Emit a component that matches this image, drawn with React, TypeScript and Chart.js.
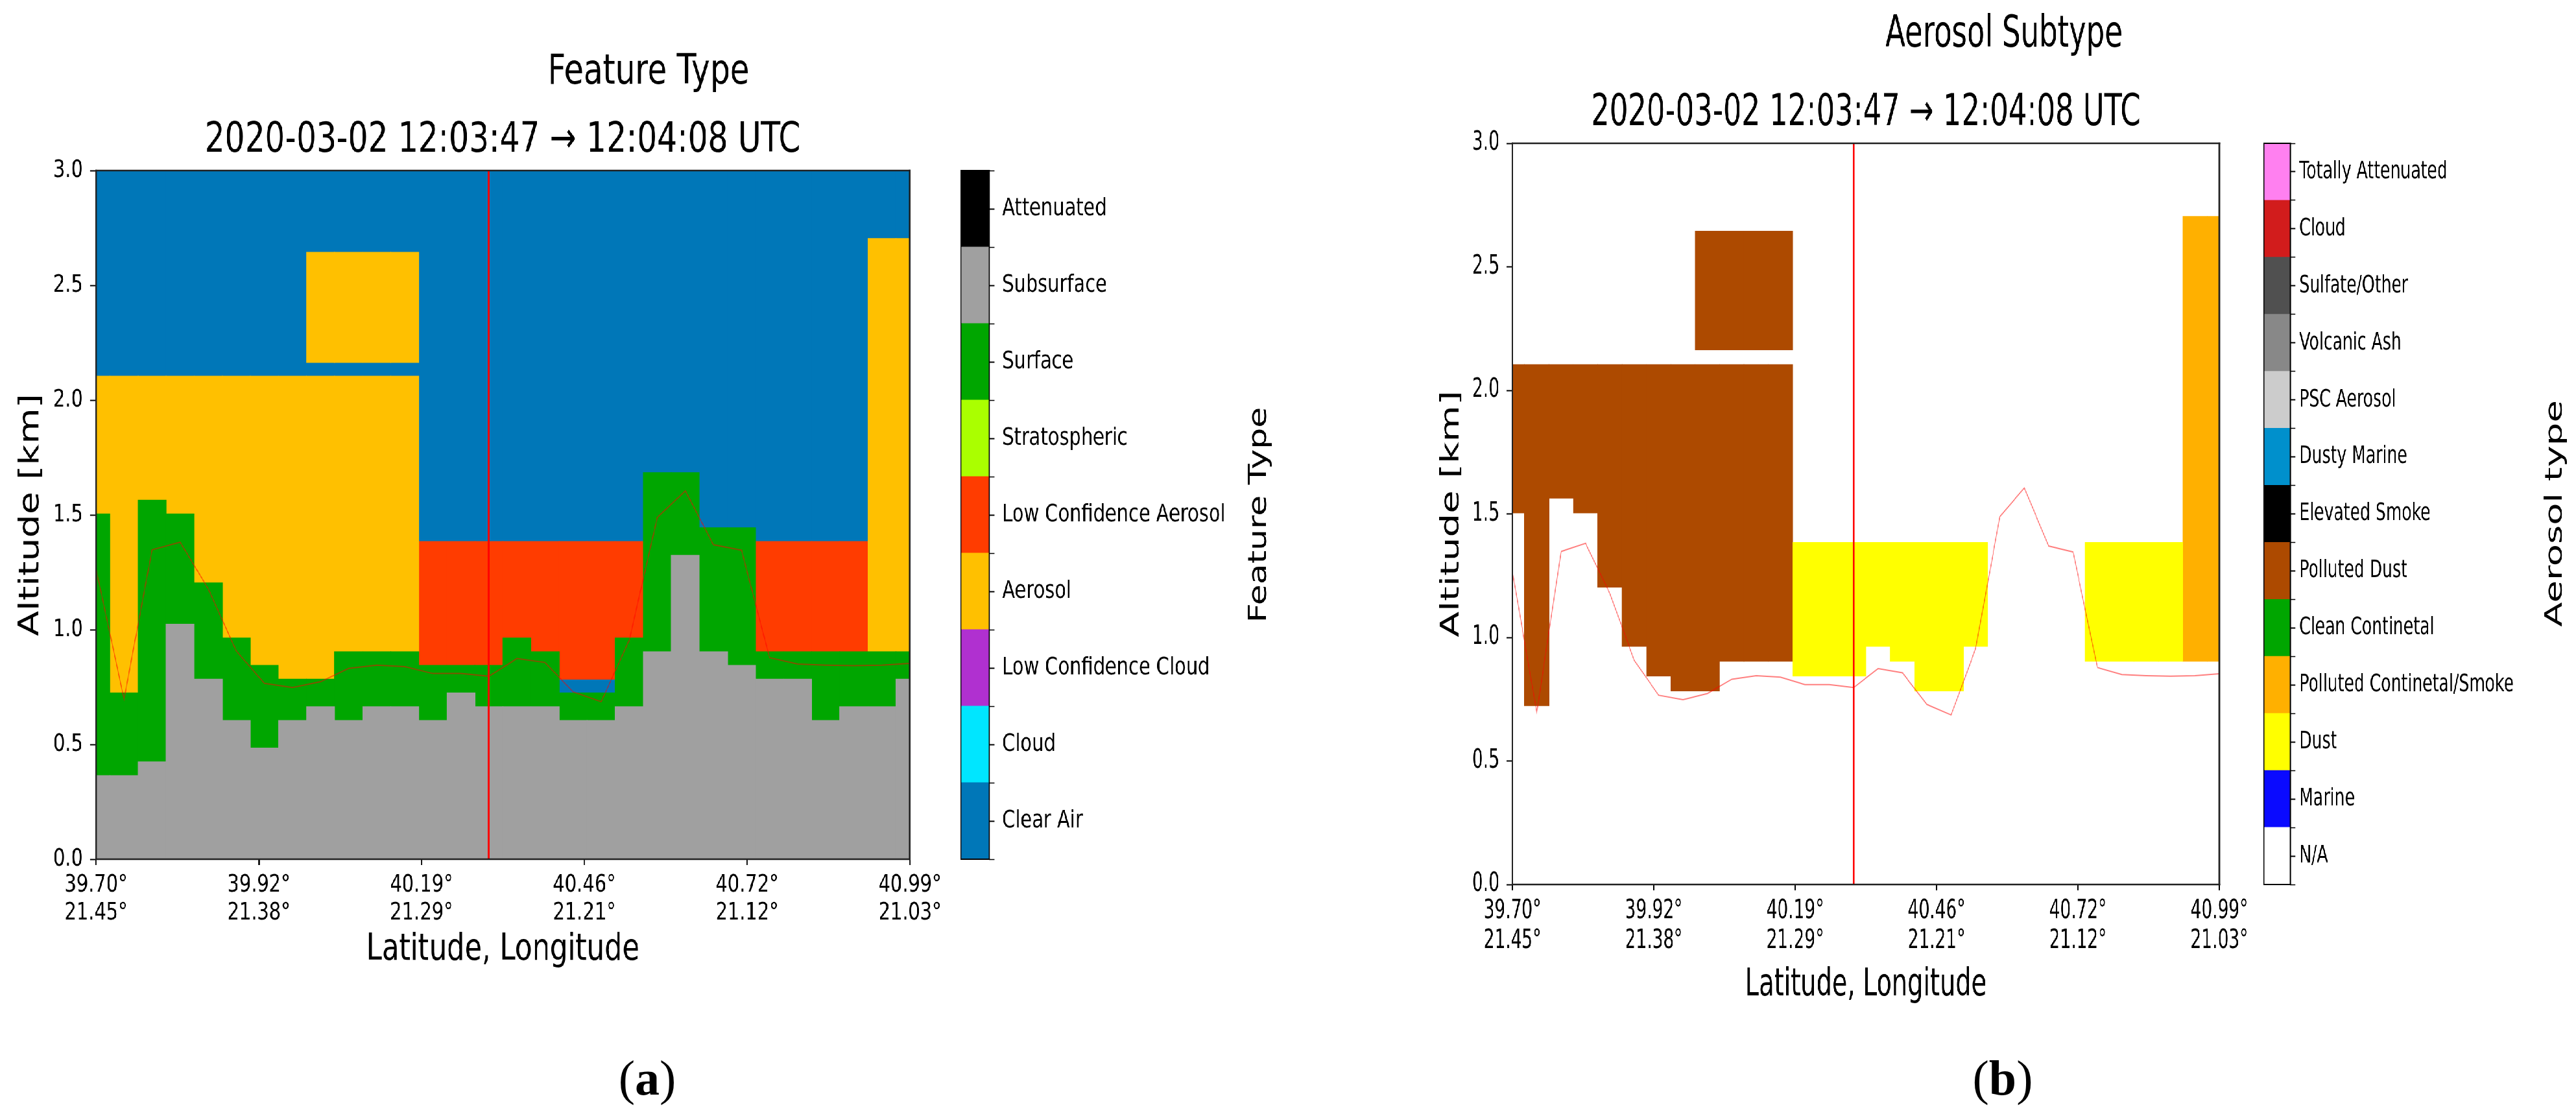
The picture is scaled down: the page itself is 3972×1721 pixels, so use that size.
import React, { useEffect, useMemo, useRef } from 'react';
import { Chart, registerables } from 'chart.js';

Chart.register(...registerables);

const FONT = '"DejaVu Sans", "Noto Sans", sans-serif';
Chart.defaults.font.family = FONT;

// ---------------- data ----------------
const profiles = [0, 1, 2, 3, 4, 5, 6, 7, 8, 9, 10, 11, 12, 13, 14, 15, 16, 17, 18, 19, 20, 21, 22, 23, 24, 25, 26, 27, 28, 29];
const latTickLabels = ['39.70°', '39.92°', '40.19°', '40.46°', '40.72°', '40.99°'];
const lonTickLabels = ['21.45°', '21.38°', '21.29°', '21.21°', '21.12°', '21.03°'];
const timeSpan = '2020-03-02 12:03:47 → 12:04:08 UTC';
const altitudeRange = [0, 3];
const altitudeStep = 0.5;
const stationProfile = 14;

// top of subsurface (km)
const subsurfaceTop = [0.364, 0.364, 0.424, 1.024, 0.784, 0.604, 0.484, 0.604, 0.664, 0.604, 0.664, 0.664, 0.604, 0.724, 0.664,
  0.664, 0.664, 0.604, 0.604, 0.664, 0.904, 1.324, 0.904, 0.844, 0.784, 0.784, 0.604, 0.664, 0.664, 0.784];
// top of surface return (km)
const surfaceTop = [1.504, 0.724, 1.564, 1.504, 1.204, 0.964, 0.844, 0.784, 0.784, 0.904, 0.904, 0.904, 0.844, 0.844, 0.844,
  0.964, 0.904, 0.724, 0.724, 0.964, 1.684, 1.684, 1.444, 1.444, 0.904, 0.904, 0.904, 0.904, 0.904, 0.904];
// lower aerosol layer
const aerosolBase = [1.504, 0.724, 1.564, 1.504, 1.204, 0.964, 0.844, 0.784, 0.784, 0.904, 0.904, 0.904, null, null, null,
  null, null, null, null, null, null, null, null, null, null, null, null, null, 0.904, 0.904];
const aerosolTop = [2.104, 2.104, 2.104, 2.104, 2.104, 2.104, 2.104, 2.104, 2.104, 2.104, 2.104, 2.104, null, null, null,
  null, null, null, null, null, null, null, null, null, null, null, null, null, 2.704, 2.704];
const aerosolSubtype = ['Polluted Dust', 'Polluted Dust', 'Polluted Dust', 'Polluted Dust', 'Polluted Dust', 'Polluted Dust',
  'Polluted Dust', 'Polluted Dust', 'Polluted Dust', 'Polluted Dust', 'Polluted Dust', 'Polluted Dust', null, null, null,
  null, null, null, null, null, null, null, null, null, null, null, null, null, 'Polluted Continetal/Smoke', 'Polluted Continetal/Smoke'];
// elevated aerosol layer
const upperAerosolBase = [null, null, null, null, null, null, null, null, 2.164, 2.164, 2.164, 2.164, null, null, null,
  null, null, null, null, null, null, null, null, null, null, null, null, null, null, null];
const upperAerosolTop = [null, null, null, null, null, null, null, null, 2.644, 2.644, 2.644, 2.644, null, null, null,
  null, null, null, null, null, null, null, null, null, null, null, null, null, null, null];
const upperAerosolSubtype = [null, null, null, null, null, null, null, null, 'Polluted Dust', 'Polluted Dust', 'Polluted Dust',
  'Polluted Dust', null, null, null, null, null, null, null, null, null, null, null, null, null, null, null, null, null, null];
// low confidence aerosol layer
const lowConfBase = [null, null, null, null, null, null, null, null, null, null, null, null, 0.844, 0.844, 0.844,
  0.964, 0.904, 0.784, 0.784, 0.964, null, null, null, null, 0.904, 0.904, 0.904, 0.904, null, null];
const lowConfTop = [null, null, null, null, null, null, null, null, null, null, null, null, 1.384, 1.384, 1.384,
  1.384, 1.384, 1.384, 1.384, 1.384, null, null, null, null, 1.384, 1.384, 1.384, 1.384, null, null];
const lowConfSubtype = [null, null, null, null, null, null, null, null, null, null, null, null, 'Dust', 'Dust', 'Dust',
  'Dust', 'Dust', 'Dust', 'Dust', 'Dust', null, null, null, null, 'Dust', 'Dust', 'Dust', 'Dust', null, null];
// surface elevation line (km)
const surfaceElevation = [1.265, 0.698, 1.348, 1.381, 1.178, 0.907, 0.766, 0.748, 0.773, 0.831, 0.845, 0.839, 0.809, 0.809, 0.797,
  0.874, 0.857, 0.729, 0.686, 0.954, 1.489, 1.605, 1.370, 1.346, 0.878, 0.850, 0.845, 0.843, 0.845, 0.853];

const FEATURE_TYPES = ['Clear Air', 'Cloud', 'Low Confidence Cloud', 'Aerosol', 'Low Confidence Aerosol', 'Stratospheric',
  'Surface', 'Subsurface', 'Attenuated'];
const FEATURE_COLORS = ['#0077b8', '#00e6ff', '#b030d0', '#ffc000', '#ff3c00', '#aaff00', '#00a600', '#a0a0a0', '#000000'];
const AEROSOL_TYPES = ['N/A', 'Marine', 'Dust', 'Polluted Continetal/Smoke', 'Clean Continetal', 'Polluted Dust', 'Elevated Smoke',
  'Dusty Marine', 'PSC Aerosol', 'Volcanic Ash', 'Sulfate/Other', 'Cloud', 'Totally Attenuated'];
const AEROSOL_COLORS = ['#ffffff', '#0a0aff', '#ffff00', '#ffb000', '#00a600', '#ad4a00', '#000000', '#0090cc', '#cccccc',
  '#888888', '#505050', '#d21c1c', '#ff80f0'];

// ---------------- layout ----------------
const H = 1721;
type Panel = {
  originX: number; spanReal: number; sx: number;
  plot: { l: number; r: number; t: number; b: number };
  cbar: { l: number; r: number; labelX: number };
  xAxisH: number;
  fonts: { title: number; axis: number; tick: number; cbar: number; cbarTitle: number };
  titleText: string; titleAt: number[]; subtitleAt: number[];
  yLabelX: number; xLabelY: number; tickLine1: number; tickLH: number;
  cbarTitleText: string; cbarTitleAt: number[];
};

const PANEL_A: Panel = {
  originX: 0, spanReal: 1995, sx: 0.76,
  plot: { l: 148, r: 1403, t: 263, b: 1325 },
  cbar: { l: 1481, r: 1525, labelX: 1545 },
  xAxisH: 180,
  fonts: { title: 64, axis: 57, tick: 38, cbar: 38, cbarTitle: 52 },
  titleText: 'Feature Type', titleAt: [1000, 112], subtitleAt: [775, 217],
  yLabelX: 48, xLabelY: 1465, tickLine1: 1365, tickLH: 1.13,
  cbarTitleText: 'Feature Type', cbarTitleAt: [1942, 794],
};
const PANEL_B: Panel = {
  originX: 2000, spanReal: 1972, sx: 0.66,
  plot: { l: 2332, r: 3422, t: 221, b: 1364 },
  cbar: { l: 3490, r: 3531, labelX: 3545 },
  xAxisH: 200,
  fonts: { title: 68, axis: 58, tick: 40, cbar: 38, cbarTitle: 56 },
  titleText: 'Aerosol Subtype', titleAt: [3090, 54], subtitleAt: [2877, 175],
  yLabelX: 2239, xLabelY: 1520, tickLine1: 1406, tickLH: 1.15,
  cbarTitleText: 'Aerosol type', cbarTitleAt: [3940, 792],
};

// ---------------- plugins ----------------
function framePlugin(sx: number, color: string, w: number) {
  return {
    id: 'frame',
    afterDraw(chart: any) {
      const { ctx, chartArea: a } = chart;
      const wv = w / sx;
      ctx.save();
      ctx.fillStyle = color;
      ctx.fillRect(a.left - wv / 2, a.top - w / 2, a.right - a.left + wv, w);
      ctx.fillRect(a.left - wv / 2, a.bottom - w / 2, a.right - a.left + wv, w);
      ctx.fillRect(a.left - wv / 2, a.top - w / 2, wv, a.bottom - a.top + w);
      ctx.fillRect(a.right - wv / 2, a.top - w / 2, wv, a.bottom - a.top + w);
      ctx.restore();
    },
  };
}

type TextItem = { text: string; x: number; y: number; size: number; rotate?: number };
function textPlugin(items: TextItem[]) {
  return {
    id: 'texts',
    afterDraw(chart: any) {
      const ctx = chart.ctx;
      for (const it of items) {
        ctx.save();
        ctx.translate(it.x, it.y);
        if (it.rotate) ctx.rotate(it.rotate);
        ctx.font = `${it.size}px ${FONT}`;
        ctx.fillStyle = '#000';
        ctx.textAlign = 'center';
        ctx.textBaseline = 'middle';
        ctx.fillText(it.text, 0, 0);
        ctx.restore();
      }
    },
  };
}

// ---------------- datasets ----------------
function cellsFrom(base: (number | null)[], top: (number | null)[], keep?: (i: number) => boolean) {
  const out: any[] = [];
  profiles.forEach((p, i) => {
    const b = base[i];
    const t = top[i];
    if (b == null || t == null) return;
    if (keep && !keep(i)) return;
    out.push({ x: p, y: [b, t] });
  });
  return out;
}
const groundLevel = profiles.map(() => altitudeRange[0]);
const skyLevel = profiles.map(() => altitudeRange[1]);

function cellDataset(label: string, color: string, data: any[], order: number) {
  return {
    type: 'bar', label, data, backgroundColor: color, borderWidth: 0, grouped: false,
    barPercentage: 1, categoryPercentage: 1, inflateAmount: 0.6, clip: 0, order,
  };
}

function lineDatasets(sx: number) {
  return [
    {
      type: 'line', label: 'Surface elevation', data: profiles.map((p, i) => ({ x: p, y: surfaceElevation[i] })),
      borderColor: 'rgba(255,0,0,0.5)', borderWidth: 2, pointRadius: 0, tension: 0, fill: false, order: 1,
    },
    {
      type: 'line', label: 'Station', data: [{ x: stationProfile, y: altitudeRange[0] }, { x: stationProfile, y: altitudeRange[1] }],
      borderColor: '#ff0000', borderWidth: 3 / sx, pointRadius: 0, fill: false, order: 0,
    },
  ];
}

function featureDatasets(p: Panel) {
  const c = (name: string) => FEATURE_COLORS[FEATURE_TYPES.indexOf(name)];
  return [
    cellDataset('Clear Air', c('Clear Air'), cellsFrom(groundLevel, skyLevel), 9),
    cellDataset('Subsurface', c('Subsurface'), cellsFrom(groundLevel, subsurfaceTop), 5),
    cellDataset('Surface', c('Surface'), cellsFrom(subsurfaceTop, surfaceTop), 5),
    cellDataset('Aerosol', c('Aerosol'), [...cellsFrom(aerosolBase, aerosolTop), ...cellsFrom(upperAerosolBase, upperAerosolTop)], 5),
    cellDataset('Low Confidence Aerosol', c('Low Confidence Aerosol'), cellsFrom(lowConfBase, lowConfTop), 5),
    ...lineDatasets(p.sx),
  ];
}

function subtypeDatasets(p: Panel) {
  const layers = [
    { base: aerosolBase, top: aerosolTop, sub: aerosolSubtype },
    { base: upperAerosolBase, top: upperAerosolTop, sub: upperAerosolSubtype },
    { base: lowConfBase, top: lowConfTop, sub: lowConfSubtype },
  ];
  const ds: any[] = [];
  AEROSOL_TYPES.forEach((name, k) => {
    const data: any[] = [];
    layers.forEach((L) => data.push(...cellsFrom(L.base, L.top, (i) => L.sub[i] === name)));
    if (data.length) ds.push(cellDataset(name, AEROSOL_COLORS[k], data, 5));
  });
  return [...ds, ...lineDatasets(p.sx)];
}

// ---------------- configs ----------------
function mainConfig(p: Panel, datasets: any[]) {
  const st = (x: number) => (x - p.originX) / p.sx;
  const W = Math.round(p.spanReal / p.sx);
  const tickLen = 9;
  const tickLineH = p.fonts.tick * p.tickLH;
  const axisLH = p.fonts.axis * 1.2;
  const n = profiles.length;
  const tickValues = latTickLabels.map((_, k) => profiles[0] + (k * (profiles[n - 1] - profiles[0])) / (latTickLabels.length - 1));
  const texts: TextItem[] = [
    { text: p.titleText, x: st(p.titleAt[0]), y: p.titleAt[1], size: p.fonts.title },
    { text: timeSpan, x: st(p.subtitleAt[0]), y: p.subtitleAt[1], size: p.fonts.title },
    { text: p.cbarTitleText, x: st(p.cbarTitleAt[0]), y: p.cbarTitleAt[1], size: p.fonts.cbarTitle, rotate: -Math.PI / 2 },
  ];
  return {
    left: 0,
    width: W,
    config: {
      type: 'bar',
      data: { datasets },
      options: {
        responsive: false, animation: false, devicePixelRatio: 1, events: [],
        layout: { padding: { left: 0, top: p.plot.t, right: W - st(p.plot.r), bottom: H - p.plot.b - p.xAxisH } },
        plugins: { legend: { display: false }, tooltip: { enabled: false } },
        scales: {
          x: {
            type: 'linear', min: profiles[0], max: profiles[n - 1], offset: false,
            afterBuildTicks: (s: any) => { s.ticks = tickValues.map((v) => ({ value: v })); },
            afterFit: (s: any) => { s.height = p.xAxisH; },
            ticks: {
              autoSkip: false, maxRotation: 0, minRotation: 0, color: '#000',
              padding: p.tickLine1 - p.plot.b - tickLen - tickLineH / 2,
              font: { family: FONT, size: p.fonts.tick, lineHeight: p.tickLH },
              callback: (_v: any, i: number) => [latTickLabels[i], lonTickLabels[i]],
            },
            grid: { display: true, offset: false, drawOnChartArea: false, drawTicks: true, tickLength: tickLen, tickWidth: 2 / p.sx, tickColor: '#000' },
            border: { display: false },
            title: {
              display: true, text: 'Latitude, Longitude', color: '#000',
              font: { family: FONT, size: p.fonts.axis, lineHeight: 1.2 },
              padding: { top: 0, bottom: p.plot.b + p.xAxisH - p.xLabelY - axisLH / 2 },
            },
          },
          y: {
            type: 'linear', min: altitudeRange[0], max: altitudeRange[1],
            afterFit: (s: any) => { s.width = st(p.plot.l); },
            ticks: {
              stepSize: altitudeStep, color: '#000', padding: 11 / p.sx,
              font: { family: FONT, size: p.fonts.tick },
              callback: (v: any) => Number(v).toFixed(1),
            },
            grid: { display: true, drawOnChartArea: false, drawTicks: true, tickLength: 9 / p.sx, tickWidth: 2, tickColor: '#000' },
            border: { display: false },
            title: {
              display: true, text: 'Altitude [km]', color: '#000',
              font: { family: FONT, size: p.fonts.axis, lineHeight: 1.2 },
              padding: { top: st(p.yLabelX) - axisLH / 2, bottom: 0 },
            },
          },
        },
      },
      plugins: [framePlugin(p.sx, '#222', 2.5), textPlugin(texts)],
    },
  };
}

function colorbarConfig(p: Panel, names: string[], colors: string[]) {
  const st = (x: number) => (x - p.originX) / p.sx;
  const left = st(p.cbar.l);
  const W = Math.round(st(p.originX + p.spanReal) - left);
  const cbW = st(p.cbar.r) - st(p.cbar.l);
  const tickLen = 8 / p.sx;
  // ticks at every colour boundary and at every colour centre; only centres are labelled
  const tickValues: number[] = [];
  for (let k = 0; k <= names.length * 2; k++) tickValues.push(k / 2);
  return {
    left,
    width: W,
    config: {
      type: 'bar',
      data: {
        labels: [''],
        datasets: names.map((name, k) => ({
          label: name, data: [[k, k + 1]], backgroundColor: colors[k], borderWidth: 0, grouped: false,
          barPercentage: 1, categoryPercentage: 1, inflateAmount: 0.5,
        })),
      },
      options: {
        responsive: false, animation: false, devicePixelRatio: 1, events: [],
        layout: { padding: { left: 0, right: 0, top: p.plot.t, bottom: H - p.plot.b } },
        plugins: { legend: { display: false }, tooltip: { enabled: false } },
        scales: {
          x: { type: 'category', display: false },
          y: {
            position: 'right', min: 0, max: names.length,
            afterBuildTicks: (s: any) => { s.ticks = tickValues.map((v) => ({ value: v })); },
            afterFit: (s: any) => { s.width = W - cbW; },
            ticks: {
              autoSkip: false, color: '#000', padding: (p.cbar.labelX - p.cbar.r) / p.sx - tickLen,
              font: { family: FONT, size: p.fonts.cbar },
              callback: (_v: any, i: number) => (i % 2 === 1 ? names[(i - 1) / 2] : ''),
            },
            grid: {
              display: true, drawOnChartArea: false, drawTicks: true, tickLength: tickLen,
              tickWidth: (ctx: any) => (ctx.index % 2 === 1 ? 2 : 1.5), tickColor: '#000',
            },
            border: { display: false },
          },
        },
      },
      plugins: [framePlugin(p.sx, '#000', 2)],
    },
  };
}

// ---------------- components ----------------
function ChartCanvas({ spec }: { spec: any }) {
  const ref = useRef<HTMLCanvasElement>(null);
  useEffect(() => {
    if (!ref.current) return;
    const chart = new Chart(ref.current, spec.config);
    return () => chart.destroy();
  }, [spec]);
  return (
    <canvas
      ref={ref}
      width={spec.width}
      height={H}
      style={{ position: 'absolute', left: spec.left, top: 0, width: spec.width, height: H }}
    />
  );
}

function PanelBox({ p, children }: { p: Panel; children: any }) {
  return (
    <div
      style={{
        position: 'absolute', left: p.originX, top: 0, width: p.spanReal / p.sx, height: H,
        transform: `scaleX(${p.sx})`, transformOrigin: '0 0',
      }}
    >
      {children}
    </div>
  );
}

function Caption({ x, y, letter }: { x: number; y: number; letter: string }) {
  return (
    <div
      style={{
        position: 'absolute', left: x - 100, top: y - 40, width: 200, textAlign: 'center',
        fontFamily: '"Liberation Serif", serif', fontSize: 76, lineHeight: '80px', color: '#000',
      }}
    >
      (<b>{letter}</b>)
    </div>
  );
}

export default function App() {
  const specs = useMemo(
    () => ({
      aMain: mainConfig(PANEL_A, featureDatasets(PANEL_A)),
      aBar: colorbarConfig(PANEL_A, FEATURE_TYPES, FEATURE_COLORS),
      bMain: mainConfig(PANEL_B, subtypeDatasets(PANEL_B)),
      bBar: colorbarConfig(PANEL_B, AEROSOL_TYPES, AEROSOL_COLORS),
    }),
    []
  );
  return (
    <div style={{ position: 'fixed', left: 0, top: 0, width: 3972, height: H, overflow: 'hidden', background: '#fff' }}>
      <PanelBox p={PANEL_A}>
        <ChartCanvas spec={specs.aMain} />
        <ChartCanvas spec={specs.aBar} />
      </PanelBox>
      <PanelBox p={PANEL_B}>
        <ChartCanvas spec={specs.bMain} />
        <ChartCanvas spec={specs.bBar} />
      </PanelBox>
      <Caption x={998} y={1662} letter="a" />
      <Caption x={3088} y={1662} letter="b" />
    </div>
  );
}
